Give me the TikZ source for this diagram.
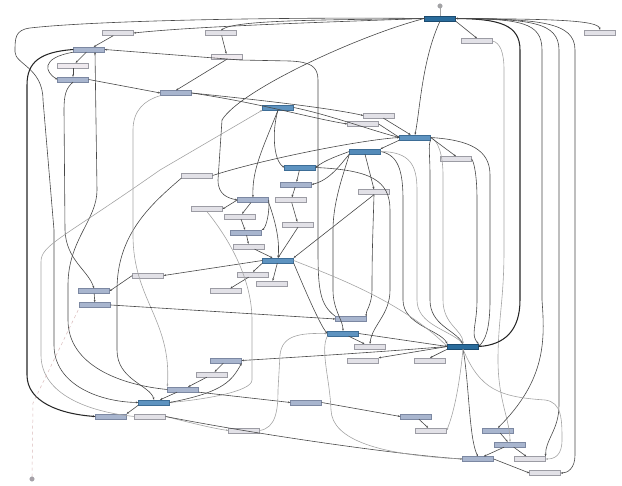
\documentclass[tikz,border=0pt]{standalone}
\usetikzlibrary{arrows.meta}
\definecolor{dkfill}{HTML}{2A6C9C}
\definecolor{dkline}{HTML}{1B4B70}
\definecolor{mdfill}{HTML}{5E93C0}
\definecolor{mdline}{HTML}{3D6D96}
\definecolor{bgfill}{HTML}{A8B5CE}
\definecolor{bgline}{HTML}{7C88A2}
\definecolor{grfill}{HTML}{E2E1E7}
\definecolor{grline}{HTML}{9C9CA4}
\definecolor{ltfill}{HTML}{EFEAEF}
\definecolor{edark}{HTML}{484848}
\definecolor{elight}{HTML}{A4A4A4}
\definecolor{ethick}{HTML}{262626}
\definecolor{pinkline}{HTML}{D9B8B8}
\begin{document}
\begin{tikzpicture}[x=1pt,y=-1pt,
  box/.style={draw, minimum width=31pt, minimum height=5pt, inner sep=0pt, line width=0.35pt},
  dk/.style={box, fill=dkfill, draw=dkline},
  md/.style={box, fill=mdfill, draw=mdline},
  bg/.style={box, fill=bgfill, draw=bgline},
  gr/.style={box, fill=grfill, draw=grline},
  lt/.style={box, fill=ltfill, draw=grline},
  e/.style={draw=edark, line width=0.6pt, -{Stealth[length=2.4pt,width=1.9pt]}},
  el/.style={e, draw=elight},
  et/.style={e, draw=ethick, line width=1.05pt},
  sm/.style={smooth, tension=0.45},
]
\useasboundingbox (0,0) rectangle (622,486);
% nodes
\node[dk] (n1) at (440,18.5) {};
\node[gr] (n2) at (600,32.5) {};
\node[gr] (n3) at (477,41) {};
\node[gr] (n4) at (118,33) {};
\node[bg] (n5) at (89,49.5) {};
\node[lt] (n6) at (73,65.5) {};
\node[bg] (n7) at (73,79.5) {};
\node[gr] (n8) at (221,33) {};
\node[lt] (n9) at (227,56.5) {};
\node[bg] (n10) at (176,93) {};
\node[md] (n11) at (278,107.5) {};
\node[gr] (n12) at (379,115.5) {};
\node[gr] (n13) at (363,124) {};
\node[md] (n14) at (415,137.5) {};
\node[md, fill=mdfill!80!dkfill] (n15) at (365,151.5) {};
\node[gr] (n16) at (456,159) {};
\node[md] (n17) at (300,167.5) {};
\node[bg] (n18) at (296,184.5) {};
\node[gr] (n19) at (197,175.5) {};
\node[bg] (n20) at (253,200) {};
\node[gr] (n21) at (207,209) {};
\node[gr] (n22) at (291,200) {};
\node[gr] (n23) at (240,216.5) {};
\node[bg] (n24) at (246,232.5) {};
\node[gr] (n25) at (298,224.5) {};
\node[gr] (n26) at (249,246.5) {};
\node[md] (n27) at (278,260.5) {};
\node[gr] (n28) at (253,274.5) {};
\node[gr] (n29) at (272,283.5) {};
\node[gr] (n30) at (226,291) {};
\node[gr] (n31) at (148,275.5) {};
\node[bg] (n33) at (94,291) {};
\node[bg] (n34) at (95,305) {};
\node[gr] (n35) at (374,192) {};
\node[bg] (n36) at (351,319) {};
\node[md] (n37) at (343,333.5) {};
\node[gr] (n38) at (370,346.5) {};
\node[dk] (n39) at (463,346.5) {};
\node[gr] (n40) at (363,360.5) {};
\node[gr] (n41) at (430,360.5) {};
\node[bg] (n42) at (416,416.5) {};
\node[gr] (n43) at (431,430.5) {};
\node[bg] (n44) at (498,430.5) {};
\node[bg] (n45) at (510,444.5) {};
\node[bg] (n46) at (478,459) {};
\node[gr] (n47) at (530,459) {};
\node[gr] (n48) at (545,473) {};
\node[bg] (n49) at (226,360.5) {};
\node[gr] (n50) at (212,374.5) {};
\node[bg] (n51) at (183,389.5) {};
\node[md] (n52) at (154,402.5) {};
\node[gr] (n53) at (150,416.5) {};
\node[bg] (n54) at (111,416.5) {};
\node[bg] (n55) at (306,402.5) {};
\node[gr] (n56) at (244,430.5) {};
\node[circle, fill=elight, draw=grline, minimum size=4.5pt, inner sep=0pt] (d1) at (440,6) {};
\node[circle, fill=grline!80!pinkline, draw=grline, minimum size=4.5pt, inner sep=0pt] (d2) at (32,479) {};
% top / left
\draw[el,-] (d1) -- (n1);
\draw[e] (n1.west) .. controls (330,22) and (200,26) .. (n4.east);
\draw[e] (n1.west) .. controls (320,20) and (235,20) .. (n8.north);
\draw[e] (n8) -- (n9);
\draw[e] (n9.south) -- (n10.north);
\draw[e] (n4) -- (n5);
\draw[e] (n5) -- (n6);
\draw[e] (n6) -- (n7);
\draw[e] (n5.south west) .. controls (40,58) and (45,72) .. (n7.west);
\draw[e] (n7.east) -- (n10.west);
\draw[e] (n36.north west) .. controls (320,305) and (318,290) .. (318,250) -- (318,80) .. controls (318,66) and (310,62) .. (290,61) -- (240,60) -- (n5.east);
\draw[e] (n1.west) .. controls (300,17) and (100,20) .. (30,28) .. controls (15,30) and (15,38) .. (15,52) .. controls (15,64) and (43,68) .. (43,100) -- (54,230) -- (54,345) .. controls (54,385) and (100,402) .. (n52.west);
\draw[et] (n5.west) .. controls (40,52) and (27,62) .. (27,85) -- (27,375) .. controls (27,402) and (60,414) .. (n54.west);
\draw[e] (n7.south) .. controls (66,88) and (64,95) .. (64,110) -- (65,230) .. controls (66,260) and (88,270) .. (n33.north);
\draw[e] (n51.west) .. controls (120,385) and (68,365) .. (68,320) -- (68,285) .. controls (68,240) and (97,220) .. (97,190) -- ([xshift=6pt]n5.south);
\draw[el] (n53.west) .. controls (90,412) and (41,395) .. (41,355) -- (41,262) .. controls (41,245) and (60,240) .. (160,170) -- (n11.south west);
\draw[e] (n19.south west) .. controls (150,205) and (117,235) .. (117,290) -- (117,350) .. controls (117,380) and (150,385) .. (n52.north);
\draw[el] (n10.south west) .. controls (145,100) and (133,110) .. (133,130) -- (133,235) .. controls (133,300) and (172,320) .. (n51.north west);
% middle
\draw[e] (n10.east) .. controls (260,100) and (330,108) .. (n12.west);
\draw[e] (n10.east) .. controls (260,103) and (310,118) .. (n13.west);
\draw[e] (n11.east) .. controls (330,115) and (370,130) .. (n14.west);
\draw[e] (n12) -- (n14);
\draw[e] (n13.east) -- (n14.west);
\draw[e] (n14.south west) -- (n15.north east);
\draw[e] (n1.south) .. controls (422,60) and (420,110) .. (n14.north);
\draw[e] (n1.south east) -- (n3.north);
\draw[e] (n1.east) .. controls (550,19) and (598,20) .. (n2.north);
\draw[el] (n3.east) .. controls (500,43) and (504,52) .. (504,70) -- (504,250) .. controls (504,300) and (498,320) .. (498,360) .. controls (498,400) and (510,420) .. (n45.north);
\draw[et] (n39.east) .. controls (505,345) and (520,330) .. (520,300) -- (520,50) .. controls (520,25) and (500,19) .. (n1.east);
\draw[e] (n1.east) .. controls (520,19) and (542,22) .. (542,50) -- (542,300) .. controls (545,340) and (546,380) .. (n44.north);
\draw[e] (n1.east) .. controls (530,19) and (559,22) .. (559,50) -- (559,405) .. controls (559,430) and (545,440) .. (n47.north east);
\draw[e] (n1.east) .. controls (540,19) and (575,22) .. (575,50) -- (575,455) .. controls (575,468) and (568,473) .. (n48.east);
\draw[e] (n1.west) .. controls (360,35) and (240,90) .. (222,120) -- (218,180) .. controls (218,195) and (228,198) .. (n20.west);
\draw[e] (n19.east) .. controls (260,160) and (360,140) .. (n14.west);
\draw[e] (n11.south) .. controls (272,130) and (273,160) .. (n17.west);
\draw[e] (n11.south) .. controls (262,150) and (252,170) .. (n20.north);
\draw[e] (n15.west) .. controls (340,155) and (325,160) .. (n17.east);
\draw[e] (n17) -- (n18);
\draw[e] (n15.south west) .. controls (340,165) and (330,180) .. (n18.east);
\draw[e] (n18) -- (n22);
\draw[e] (n22) -- (n25);
\draw[e] (n25.south) -- (n27.north);
\draw[e] (n20) -- (n23);
\draw[e] (n23) -- (n24);
\draw[e] (n20.east) .. controls (270,212) and (266,228) .. (n24.north east);
\draw[e] (n24) -- (n26);
\draw[e] (n26) -- (n27);
\draw[e] (n20.south east) .. controls (275,220) and (280,240) .. (n27.north);
\draw[e] (n20.west) -- (n21.east);
\draw[e] (n27.south west) -- (n28.north);
\draw[e] (n27) -- (n29);
\draw[e] (n28) -- (n30);
\draw[e] (n27.west) -- (n31.east);
\draw[e] (n35.south) -- (n27.north east);
\draw[e] (n15.south) -- (n35.north);
\draw[e] (n35.south) .. controls (373,230) and (372,250) .. (372,290) .. controls (372,305) and (365,312) .. (n36.north east);
\draw[e] (n17.east) .. controls (370,170) and (390,180) .. (390,210) -- (390,290) .. controls (390,315) and (372,325) .. (n38.north);
\draw[e] (n15.south west) .. controls (345,170) and (333,200) .. (333,230) -- (333,290) .. controls (333,310) and (343,320) .. (n37.north);
\draw[e] (n15.east) .. controls (398,155) and (403,170) .. (403,200) -- (403,300) .. controls (403,325) and (440,330) .. (n39.north west);
\draw[el] (n15.east) .. controls (410,152) and (417,165) .. (417,190) -- (417,300) .. controls (417,325) and (450,330) .. (n39.north);
\draw[e] (n14.south east) .. controls (428,145) and (430,155) .. (430,175) -- (430,300) .. controls (430,325) and (455,330) .. (n39.north);
\draw[el] (n14.east) .. controls (438,140) and (443,155) .. (443,175) -- (443,300) .. controls (443,325) and (463,330) .. (n39.north);
\draw[e] (n14.east) -- (n16.north);
\draw[e] (n16.east) .. controls (474,162) and (477,175) .. (477,200) -- (477,300) .. controls (477,325) and (470,335) .. (n39.north east);
\draw[e] (n14.east) .. controls (470,140) and (490,150) .. (490,175) -- (490,300) .. controls (490,330) and (485,340) .. (n39.east);
\draw[el] (n21.south) .. controls (230,240) and (252,280) .. (252,320) -- (252,380) .. controls (252,392) and (200,400) .. (n52.east);
% bottom
\draw[e] (n27.south east) .. controls (305,290) and (320,325) .. (n37.west);
\draw[el] (n27.east) .. controls (330,275) and (400,300) .. (n39.west);
\draw[e] (n37) -- (n38);
\draw[e] (n37.east) -- (n39.west);
\draw[e] (n39.west) -- (n40.north east);
\draw[e] (n39.south west) -- (n41.north);
\draw[e] (n39.west) .. controls (380,352) and (300,357) .. (n49.east);
\draw[e] (n42) -- (n43);
\draw[el] (n39.south) .. controls (460,380) and (455,410) .. (n43.east);
\draw[e] (n55.east) -- (n42.west);
\draw[e] (n51.south east) -- (n55.west);
\draw[el] (n53.east) .. controls (180,420) and (210,428) .. (n56.west);
\draw[el] (n56.east) .. controls (276,428) and (278,410) .. (278,390) -- (280,355) .. controls (282,335) and (300,333) .. (n37.west);
\draw[e] (n53.east) .. controls (260,435) and (400,455) .. (n46.west);
\draw[el] (n37.south west) .. controls (320,350) and (330,380) .. (331,410) .. controls (332,440) and (380,455) .. (n46.west);
\draw[e] (n44) -- (n45);
\draw[e] (n45) -- (n46);
\draw[e] (n45) -- (n47);
\draw[e] (n46.east) -- (n48.west);
\draw[e] (n39.south) .. controls (469,380) and (469,440) .. (n46.north);
\draw[el] (n39.south) .. controls (480,390) and (500,397) .. (545,400) .. controls (562,402) and (562,420) .. (562,440) .. controls (562,455) and (555,459) .. (n47.east);
\draw[e] (n49) -- (n50);
\draw[e] (n50) -- (n51);
\draw[e] (n51) -- (n52);
\draw[e] (n52.east) .. controls (225,392) and (232,380) .. (n49.south east);
\draw[e] (n52.south west) -- (n54.north east);
\draw[e] (n31.west) -- (n33.east);
\draw[e] (n33) -- (n34);
\draw[e] (n34.east) -- (n36.west);
\draw[pinkline, dashed, line width=0.5pt] (d2) -- (33,403) -- (n34.south west);
\end{tikzpicture}
\end{document}
